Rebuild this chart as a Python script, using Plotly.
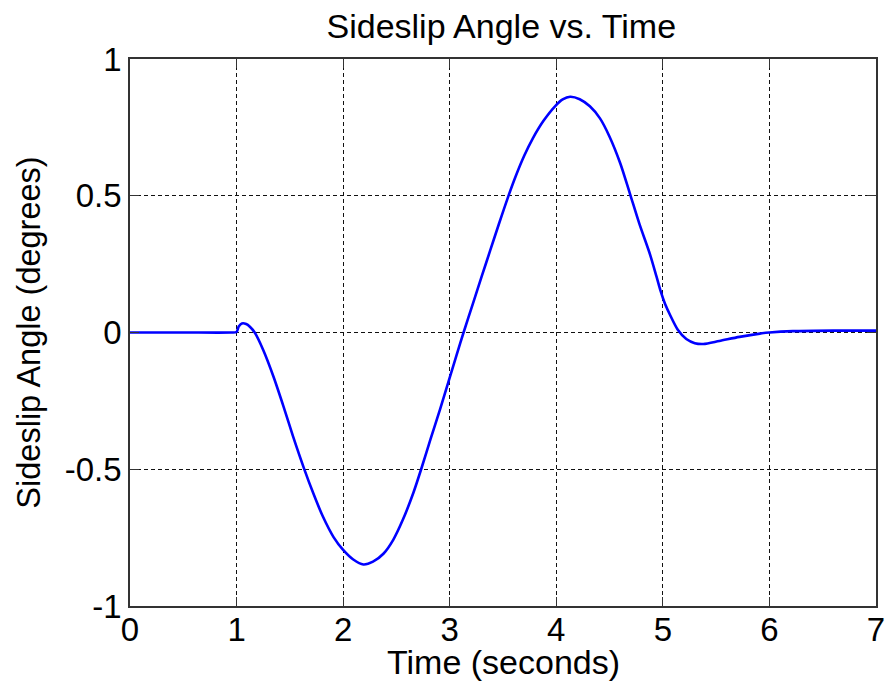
import plotly.graph_objects as go

# Sideslip response time history (seconds, degrees)
time_s = [0.0, 0.5, 0.95, 1.0, 1.02, 1.05, 1.09, 1.125, 1.17, 1.25, 1.345, 1.44,
          1.53, 1.63, 1.72, 1.81, 1.91, 2.0, 2.095, 2.19, 2.28, 2.38, 2.47,
          2.56, 2.66, 2.74, 2.82, 2.91, 2.99, 3.065, 3.13, 3.22, 3.30, 3.38,
          3.46, 3.54, 3.62, 3.70, 3.78, 3.88, 3.99, 4.06, 4.13, 4.22, 4.315,
          4.41, 4.50, 4.60, 4.69, 4.78, 4.88, 4.94, 4.98, 5.02, 5.07, 5.14,
          5.22, 5.30, 5.38, 5.53, 5.72, 5.91, 6.0, 6.22, 6.6, 7.0]
sideslip_deg = [0.0, 0.0, 0.0, 0.002, 0.022, 0.033, 0.031, 0.021, 0.0, -0.064, -0.16, -0.27,
                -0.38, -0.494, -0.588, -0.673, -0.748, -0.795, -0.830, -0.848, -0.838, -0.808, -0.758,
                -0.685, -0.585, -0.49, -0.39, -0.28, -0.178, -0.082, 0.0, 0.108, 0.205, 0.30,
                0.395, 0.487, 0.572, 0.647, 0.71, 0.774, 0.828, 0.852, 0.862, 0.853, 0.827,
                0.783, 0.716, 0.619, 0.509, 0.397, 0.285, 0.205, 0.15, 0.105, 0.062, 0.01,
                -0.024, -0.039, -0.042, -0.031, -0.016, -0.004, 0.0, 0.005, 0.007, 0.007]

x_ticks = [0, 1, 2, 3, 4, 5, 6, 7]
x_tick_text = ["0", "1", "2", "3", "4", "5", "6", "7"]
y_ticks = [-1, -0.5, 0, 0.5, 1]
y_tick_text = ["-1", "-0.5", "0", "0.5", "1"]

FONT = "Liberation Sans, Arial, sans-serif"
FRAME = "#333333"

fig = go.Figure()
fig.add_trace(go.Scatter(
    x=time_s, y=sideslip_deg, mode="lines",
    line=dict(color="#0000ff", width=2.6, shape="spline", smoothing=0.8),
    showlegend=False, hoverinfo="x+y",
))

axis_common = dict(
    showline=True, linecolor=FRAME, linewidth=1.5, mirror="ticks",
    ticks="inside", ticklen=9, tickwidth=1.3, tickcolor=FRAME,
    showgrid=True, gridcolor="#111111", gridwidth=1.2, griddash="4px,3px",
    zeroline=False, automargin=False,
    tickfont=dict(family=FONT, size=33, color="black"),
)

fig.update_layout(
    width=892, height=681,
    margin=dict(l=130, r=16, t=59, b=75, autoexpand=False),
    paper_bgcolor="white", plot_bgcolor="white",
    font=dict(family=FONT, color="black"),
    title=dict(text="Sideslip Angle vs. Time", x=0.562, xanchor="center",
               y=0.962, yanchor="middle", automargin=False,
               font=dict(family=FONT, size=34, color="black")),
    xaxis=dict(axis_common, range=[0, 7], tickvals=x_ticks, ticktext=x_tick_text,
               ticklabelstandoff=-6),
    yaxis=dict(axis_common, range=[-1, 1], tickvals=y_ticks, ticktext=y_tick_text,
               title=dict(text="Sideslip Angle (degrees)", standoff=14,
                          font=dict(family=FONT, size=32.5, color="black"))),
)

# x-axis title placed just under the tick labels
fig.add_annotation(
    text="Time (seconds)", xref="paper", yref="paper", x=0.5, y=-0.1025,
    xanchor="center", yanchor="middle", showarrow=False,
    font=dict(family=FONT, size=34, color="black"),
)

fig.write_html("out.html")
